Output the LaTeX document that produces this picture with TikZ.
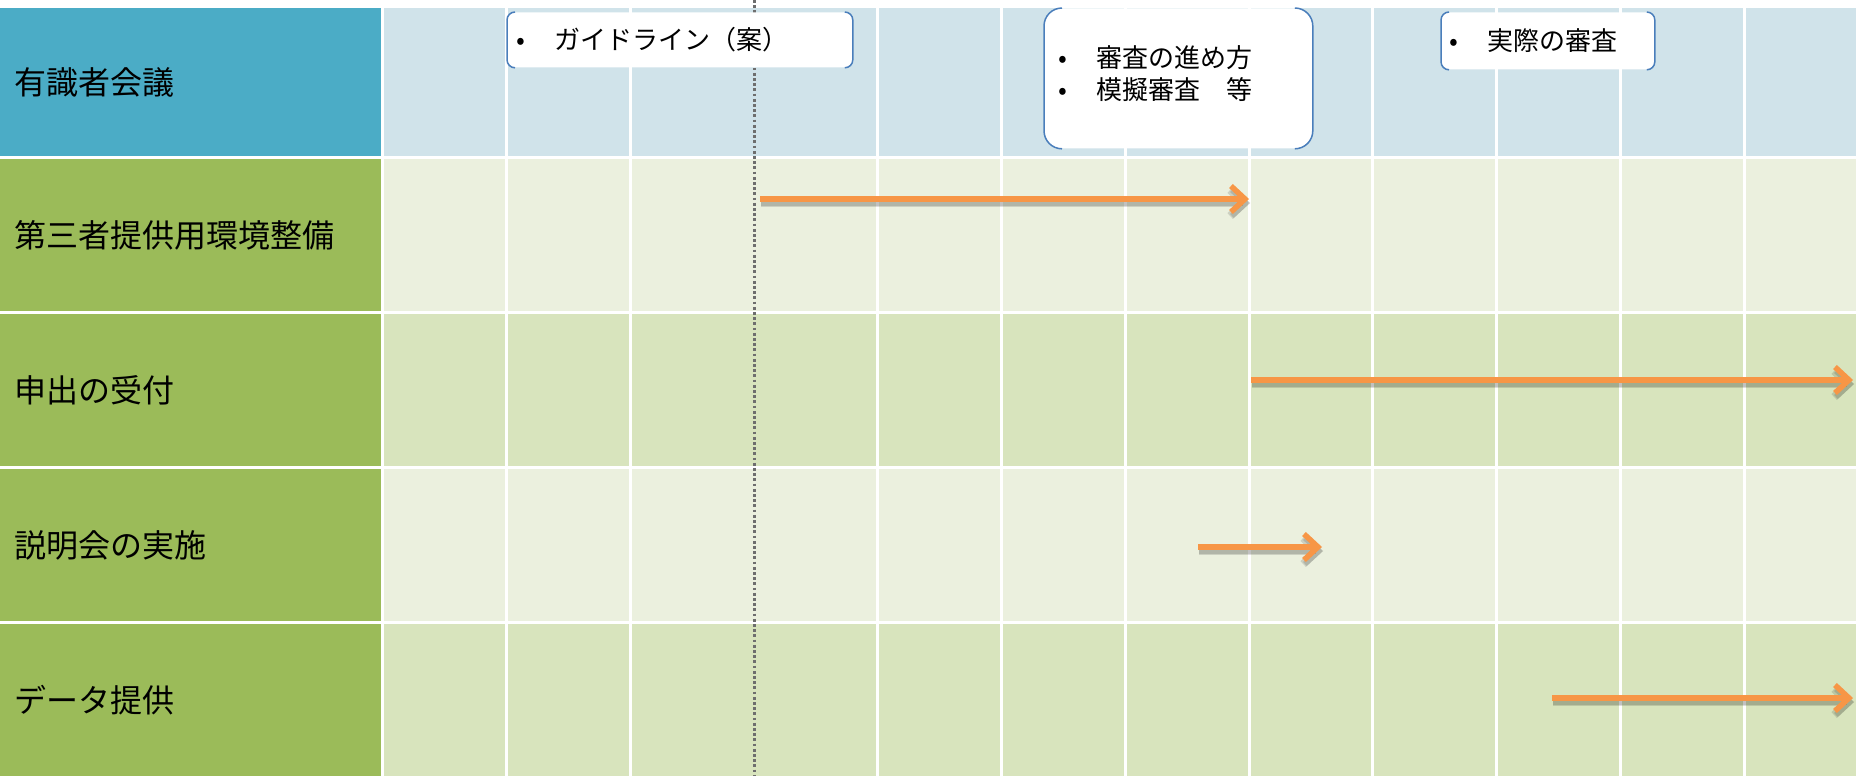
\documentclass[tikz,border=0pt]{standalone}
\usepackage{fontspec}
\setmainfont{Noto Sans CJK JP}
\usetikzlibrary{arrows.meta}

\definecolor{hdrblue}{HTML}{4BACC6}
\definecolor{hdrgreen}{HTML}{9BBB59}
\definecolor{rowblue}{HTML}{D0E3EA}
\definecolor{rowlight}{HTML}{EBF0DE}
\definecolor{rowdark}{HTML}{D8E4BD}
\definecolor{planorange}{HTML}{F79646}
\definecolor{bracketblue}{HTML}{4A7EBB}
\definecolor{dotgray}{HTML}{6E6E6E}

\newcommand{\itembul}{\makebox[19pt][l]{•}}

\begin{document}
\begin{tikzpicture}[x=0.5pt,y=-0.5pt]
			\tikzset{rowlabel/.style = {anchor=west, inner sep=0pt, 
					font=\fontsize{16pt}{19pt}\selectfont}}
			\tikzset{gridline/.style = {draw=white, line width=1.5pt}}
			\tikzset{milestone/.style = {draw=dotgray, line width=1.5pt, 
					dash pattern=on 1.4pt off 1.2pt}}
			\tikzset{bracketbox/.style = {fill=white, anchor=north west, 
					align=left, inner ysep=0pt, 
					font=\fontsize{13pt}{16pt}\selectfont}}
			\tikzset{bracket/.style = {draw=bracketblue, line width=0.75pt}}
			\tikzset{plan/.style = {-{Straight Barb[length=7pt, width=13pt]}, 
					draw=planorange, line width=2.75pt}}
			\tikzset{planshadow/.style = {plan, draw=black, opacity=0.13, 
					transform canvas={xshift=0.5pt, yshift=-2pt}}}
			
			\useasboundingbox (0,0) rectangle (1856,776);
			
			% rows
			\foreach \top/\bot/\hc/\gc in {8/157.5/hdrblue/rowblue, 
					157.5/312.5/hdrgreen/rowlight, 312.5/467.5/hdrgreen/rowdark, 
					467.5/622.5/hdrgreen/rowlight, 622.5/776/hdrgreen/rowdark}
			{
				\fill[\hc] (0,\top) rectangle (382.5,\bot);
				\fill[\gc] (382.5,\top) rectangle (1856,\bot);
			}
			
			% grid
			\draw[gridline] (382.5,8) -- (382.5,776);
			\foreach \k in {1,2,4,5,6,7,8,9,10,11}
				\draw[gridline] ({382.5+\k*123.8},8) -- ({382.5+\k*123.8},776);
			\foreach \y in {157.5,312.5,467.5,622.5}
				\draw[gridline] (0,\y) -- (1856,\y);
			
			\draw[milestone] (754,0) -- (754,776);
			
			% row labels
			\node[rowlabel] (r1) at (14,82) {有識者会議};
			\node[rowlabel] (r2) at (14,235) {第三者提供用環境整備};
			\node[rowlabel] (r3) at (14,390) {申出の受付};
			\node[rowlabel] (r4) at (14,545) {説明会の実施};
			\node[rowlabel] (r5) at (14,700) {データ提供};
			
			% meetings
			\node[bracketbox, rounded corners=4pt, inner xsep=4.5pt, 
				text width=163.5pt, minimum height=27.5pt] (guide) at (507,12) 
				{\itembul ガイドライン（案）};
			\node[bracketbox, rounded corners=9pt, inner xsep=7pt, 
				text width=120pt, minimum height=70pt] (exam) at (1044,8) 
				{\itembul 審査の進め方\\ \itembul 模擬審査　等\\[-10pt]\mbox{}};
			\node[bracketbox, rounded corners=4pt, inner xsep=4pt, 
				text width=98.5pt, minimum height=28.5pt] (real) at (1441,12) 
				{\itembul 実際の審査};
			
			\foreach \b/\r in {guide/4pt, exam/9pt, real/4pt}
			{
				\draw[bracket, rounded corners=\r] ([xshift=\r]\b.north west) 
					-- (\b.north west) -- (\b.south west) -- ([xshift=\r]\b.south west);
				\draw[bracket, rounded corners=\r] ([xshift=-\r]\b.north east) 
					-- (\b.north east) -- (\b.south east) -- ([xshift=-\r]\b.south east);
			}
			
			% schedule
			\coordinate (s1) at (760,199);
			\coordinate (e1) at (1249,199);
			\coordinate (s2) at (1251,380);
			\coordinate (e2) at (1853,380);
			\coordinate (s3) at (1198,547);
			\coordinate (e3) at (1322,547);
			\coordinate (s4) at (1552,698);
			\coordinate (e4) at (1853,698);
			
			\foreach \i in {1,...,4}
			{
				\draw[planshadow, line width=4pt] (s\i) -- (e\i);
				\draw[planshadow] (s\i) -- (e\i);
				\draw[plan] (s\i) -- (e\i);
			}
			
\end{tikzpicture}
\end{document}
